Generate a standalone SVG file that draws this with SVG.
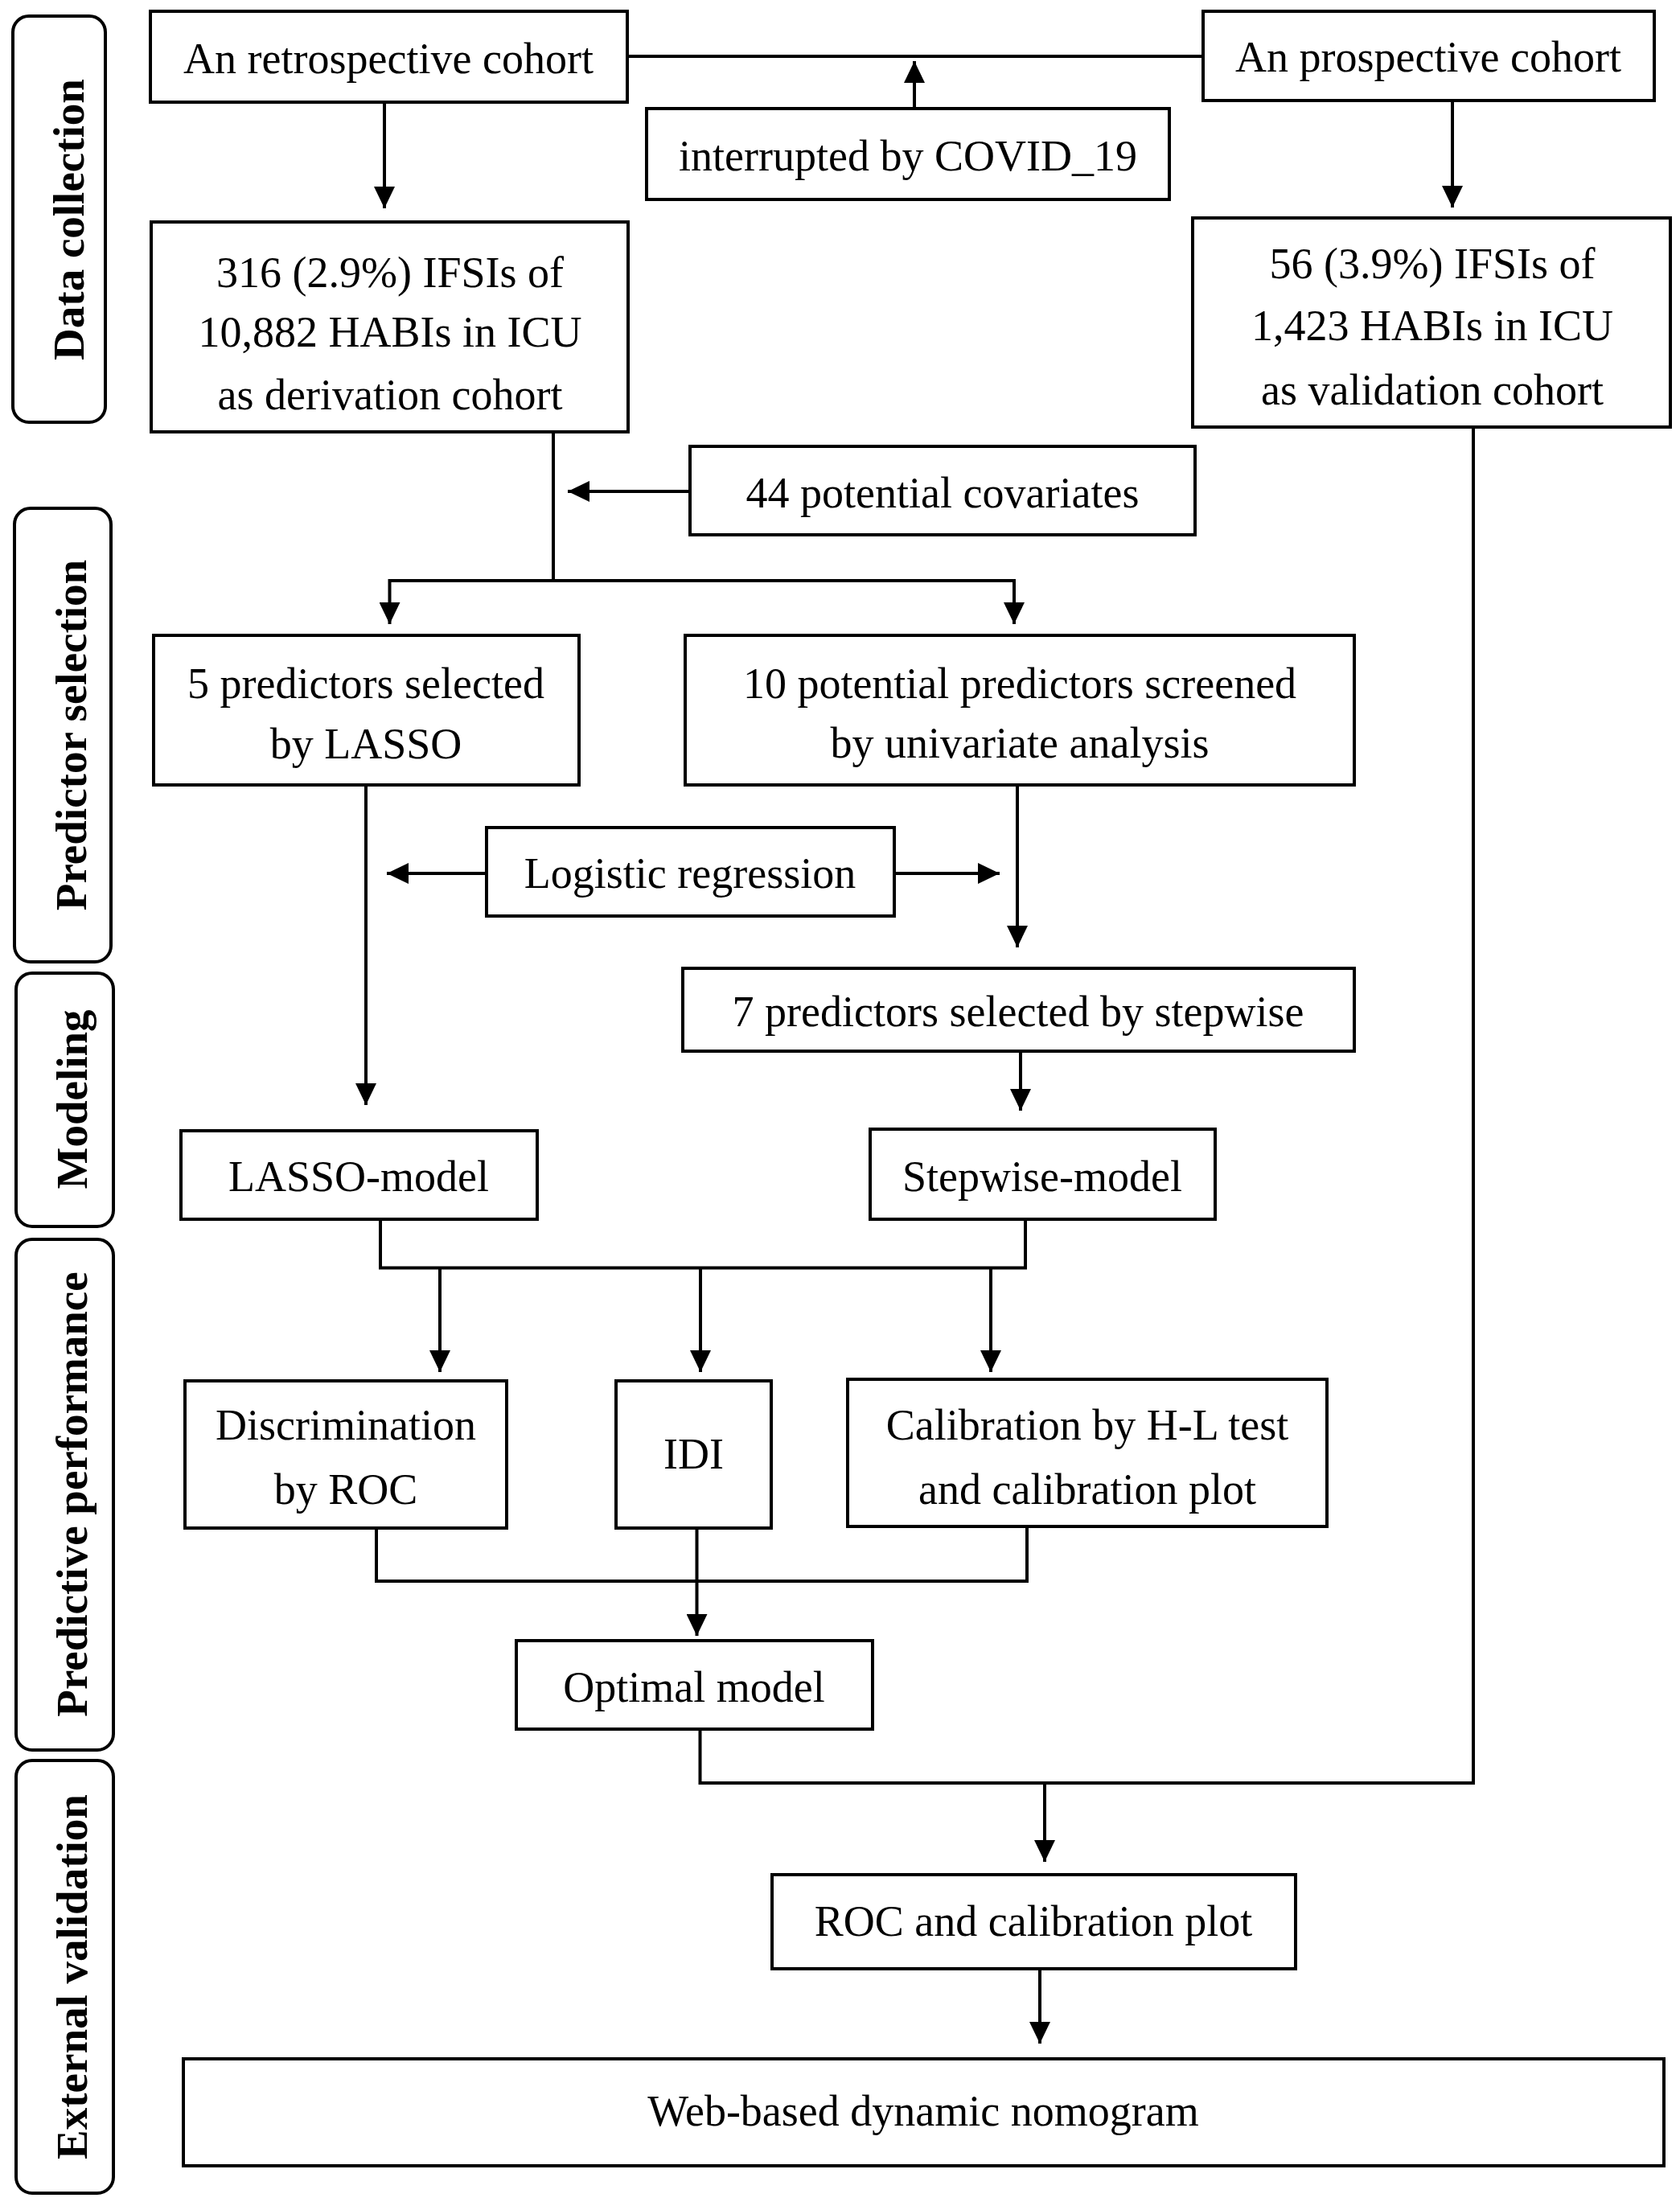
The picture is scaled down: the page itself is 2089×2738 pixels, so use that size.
<svg xmlns="http://www.w3.org/2000/svg" width="2089" height="2738" viewBox="0 0 2089 2738">
<style>
.bg{fill:#ffffff}
.box{fill:#ffffff;stroke:#000;stroke-width:4}
.side{fill:#ffffff;stroke:#000;stroke-width:4}
.t{font-family:"Liberation Serif","Times New Roman",serif;font-size:54px;fill:#000;text-anchor:middle}
.s{font-family:"Liberation Serif","Times New Roman",serif;font-size:55px;font-weight:bold;fill:#000;text-anchor:middle}
.ln{fill:none;stroke:#000;stroke-width:4}
.ar{fill:none;stroke:#000;stroke-width:4;marker-end:url(#ah)}
</style>
<defs>
<marker id="ah" markerUnits="userSpaceOnUse" markerWidth="28" markerHeight="26" refX="27" refY="13" orient="auto">
<path d="M0,0 L27,13 L0,26 Z" fill="#000"/>
</marker>
</defs>
<rect class="bg" x="0" y="0" width="2089" height="2738"/>

<g id="side-data-collection">
<rect class="side" x="16" y="20" width="115" height="505" rx="20"/>
<text class="s" transform="translate(104,273) rotate(-90)">Data collection</text>
</g>
<g id="side-predictor-selection">
<rect class="side" x="18" y="632" width="120" height="564" rx="20"/>
<text class="s" transform="translate(107,914) rotate(-90)">Predictor selection</text>
</g>
<g id="side-modeling">
<rect class="side" x="20" y="1210" width="121" height="315" rx="20"/>
<text class="s" transform="translate(108,1367) rotate(-90)">Modeling</text>
</g>
<g id="side-predictive-performance">
<rect class="side" x="20" y="1541" width="121" height="635" rx="20"/>
<text class="s" transform="translate(108,1858) rotate(-90)">Predictive performance</text>
</g>
<g id="side-external-validation">
<rect class="side" x="20" y="2189" width="121" height="538" rx="20"/>
<text class="s" transform="translate(108,2458) rotate(-90)">External validation</text>
</g>

<g id="connectors">
<line class="ln" x1="780" y1="70" x2="1496" y2="70"/>
<line class="ar" x1="1137" y1="135" x2="1137" y2="76"/>
<line class="ar" x1="478" y1="127" x2="478" y2="259"/>
<line class="ar" x1="1806" y1="125" x2="1806" y2="258"/>
<line class="ln" x1="688" y1="537" x2="688" y2="722"/>
<line class="ar" x1="858" y1="611" x2="706" y2="611"/>
<line class="ln" x1="484.5" y1="722" x2="1261" y2="722"/>
<line class="ar" x1="484.5" y1="720" x2="484.5" y2="776"/>
<line class="ar" x1="1261" y1="720" x2="1261" y2="776"/>
<line class="ar" x1="455" y1="976" x2="455" y2="1374"/>
<line class="ar" x1="605" y1="1086" x2="481" y2="1086"/>
<line class="ar" x1="1112" y1="1086" x2="1243" y2="1086"/>
<line class="ar" x1="1265" y1="976" x2="1265" y2="1178"/>
<line class="ar" x1="1269" y1="1307" x2="1269" y2="1381"/>
<polyline class="ln" points="473,1516 473,1576.5 1275,1576.5 1275,1516"/>
<line class="ar" x1="547" y1="1576.5" x2="547" y2="1706"/>
<line class="ar" x1="871" y1="1576.5" x2="871" y2="1706"/>
<line class="ar" x1="1232" y1="1576.5" x2="1232" y2="1706"/>
<polyline class="ln" points="468,1900 468,1966 1277,1966 1277,1898"/>
<line class="ar" x1="866.5" y1="1900" x2="866.5" y2="2034"/>
<polyline class="ln" points="870.5,2150 870.5,2217 1832,2217 1832,531"/>
<line class="ar" x1="1299" y1="2217" x2="1299" y2="2315"/>
<line class="ar" x1="1293" y1="2448" x2="1293" y2="2541"/>
</g>

<g id="n-retrospective">
<rect class="box" x="187" y="14" width="593" height="113"/>
<text class="t" x="483" y="91">An retrospective cohort</text>
</g>
<g id="n-prospective">
<rect class="box" x="1496" y="14" width="561" height="111"/>
<text class="t" x="1776" y="89">An prospective cohort</text>
</g>
<g id="n-interrupted">
<rect class="box" x="804" y="135" width="650" height="113"/>
<text class="t" x="1129" y="212">interrupted by COVID_19</text>
</g>
<g id="n-derivation">
<rect class="box" x="188" y="276" width="593" height="261"/>
<text class="t" x="485" y="357">316 (2.9%) IFSIs of</text>
<text class="t" x="485" y="431">10,882 HABIs in ICU</text>
<text class="t" x="485" y="509">as derivation cohort</text>
</g>
<g id="n-validation">
<rect class="box" x="1483" y="271" width="594" height="260"/>
<text class="t" x="1781" y="346">56 (3.9%) IFSIs of</text>
<text class="t" x="1781" y="423">1,423 HABIs in ICU</text>
<text class="t" x="1781" y="503">as validation cohort</text>
</g>
<g id="n-covariates">
<rect class="box" x="858" y="555" width="628" height="110"/>
<text class="t" x="1172" y="631">44 potential covariates</text>
</g>
<g id="n-lasso-select">
<rect class="box" x="191" y="790" width="529" height="186"/>
<text class="t" x="455" y="868">5 predictors selected</text>
<text class="t" x="455" y="943">by LASSO</text>
</g>
<g id="n-univariate">
<rect class="box" x="852" y="790" width="832" height="186"/>
<text class="t" x="1268" y="868">10 potential predictors screened</text>
<text class="t" x="1268" y="942">by univariate analysis</text>
</g>
<g id="n-logistic">
<rect class="box" x="605" y="1029" width="507" height="110"/>
<text class="t" x="858" y="1104">Logistic regression</text>
</g>
<g id="n-stepwise-select">
<rect class="box" x="849" y="1204" width="835" height="103"/>
<text class="t" x="1266" y="1276">7 predictors selected by stepwise</text>
</g>
<g id="n-lasso-model">
<rect class="box" x="225" y="1406" width="443" height="110"/>
<text class="t" x="446" y="1481">LASSO-model</text>
</g>
<g id="n-stepwise-model">
<rect class="box" x="1082" y="1404" width="429" height="112"/>
<text class="t" x="1296" y="1481">Stepwise-model</text>
</g>
<g id="n-discrimination">
<rect class="box" x="230" y="1717" width="400" height="183"/>
<text class="t" x="430" y="1790">Discrimination</text>
<text class="t" x="430" y="1870">by ROC</text>
</g>
<g id="n-idi">
<rect class="box" x="766" y="1717" width="193" height="183"/>
<text class="t" x="862.5" y="1826">IDI</text>
</g>
<g id="n-calibration">
<rect class="box" x="1054" y="1715" width="596" height="183"/>
<text class="t" x="1352" y="1790">Calibration by H-L test</text>
<text class="t" x="1352" y="1870">and calibration plot</text>
</g>
<g id="n-optimal">
<rect class="box" x="642" y="2040" width="443" height="110"/>
<text class="t" x="863" y="2116">Optimal model</text>
</g>
<g id="n-roc">
<rect class="box" x="960" y="2331" width="651" height="117"/>
<text class="t" x="1285" y="2407">ROC and calibration plot</text>
</g>
<g id="n-web">
<rect class="box" x="228" y="2560" width="1841" height="133"/>
<text class="t" x="1148" y="2643">Web-based dynamic nomogram</text>
</g>
</svg>
